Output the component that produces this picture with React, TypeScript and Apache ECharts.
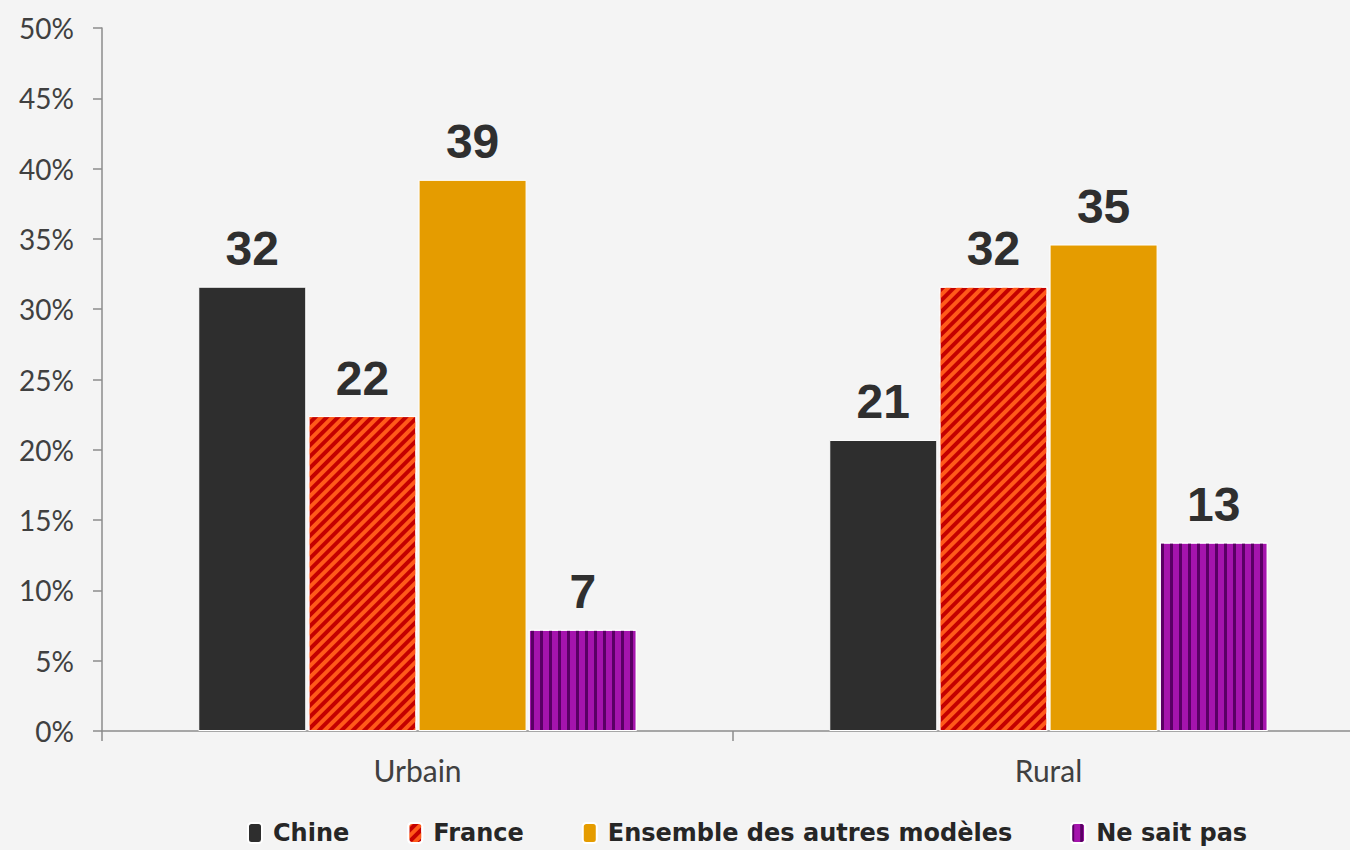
import React, { useEffect, useRef } from "react";
import * as echarts from "echarts";

const categories = ["Urbain", "Rural"];
const seriesNames = ["Chine", "France", "Ensemble des autres modèles", "Ne sait pas"];
const chine = [31.6, 20.7];
const france = [22.4, 31.6];
const ensemble = [39.2, 34.6];
const neSaitPas = [7.2, 13.4];
const yTicks = { min: 0, max: 50, interval: 5 };

export default function App() {
  const ref = useRef<HTMLDivElement>(null);
  useEffect(() => {
    if (!ref.current) return;
    const chart = echarts.init(ref.current, null, { renderer: "svg" });
    const labelStyle = {
      show: true,
      position: "top",
      distance: 14,
      color: "#2f2f2f",
      fontSize: 48,
      fontWeight: "bold",
      fontFamily: "Liberation Sans, Arial, sans-serif",
      formatter: (p: any) => String(Math.round(p.value)),
    };
    const mk = (name: string, data: number[], itemStyle: any) => ({
      name,
      type: "bar",
      data,
      barWidth: 108,
      barGap: "2%",
      itemStyle: { borderColor: "#ffffff", borderWidth: 1, ...itemStyle },
      label: labelStyle,
    });
    chart.setOption({
      animation: false,
      backgroundColor: "#f4f4f4",
      textStyle: { fontFamily: "Lato, 'Open Sans', sans-serif" },
      grid: { left: 102, right: 0, top: 28, bottom: 119, containLabel: false },
      legend: {
        top: 821,
        left: 247,
        padding: 0,
        itemWidth: 14,
        itemHeight: 20,
        itemGap: 58,
        textStyle: {
          fontSize: 24,
          lineHeight: 24,
          fontWeight: "bold",
          color: "#262626",
          fontFamily: "DejaVu Sans, sans-serif",
          padding: [0, 0, 0, 6],
        },
        data: seriesNames,
      },
      xAxis: {
        type: "category",
        data: categories,
        axisLine: { lineStyle: { color: "#8c8c8c", width: 1.5 } },
        axisTick: { show: true, length: 10, lineStyle: { color: "#8c8c8c", width: 1.5 } },
        axisLabel: { fontSize: 30, color: "#404040", margin: 24, fontFamily: "Lato, sans-serif" },
      },
      yAxis: {
        type: "value",
        min: yTicks.min,
        max: yTicks.max,
        interval: yTicks.interval,
        splitLine: { show: false },
        axisLine: { show: true, lineStyle: { color: "#8c8c8c", width: 1.5 } },
        axisTick: { show: true, length: 9, lineStyle: { color: "#8c8c8c", width: 1.5 } },
        axisLabel: {
          formatter: "{value}%",
          fontSize: 28,
          color: "#404040",
          margin: 28,
          fontFamily: "Lato, sans-serif",
        },
      },
      series: [
        mk(seriesNames[0], chine, { color: "#2e2e2e" }),
        mk(seriesNames[1], france, {
          color: "#c40000",
          decal: {
            symbol: "rect",
            symbolSize: 1,
            color: "#ff5a1a",
            dashArrayX: [1, 0],
            dashArrayY: [4, 4],
            rotation: -Math.PI / 4,
          },
        }),
        mk(seriesNames[2], ensemble, { color: "#e59c00" }),
        mk(seriesNames[3], neSaitPas, {
          color: "#a514ad",
          decal: {
            symbol: "rect",
            symbolSize: 1,
            color: "#5a0064",
            dashArrayX: [3, 6],
            dashArrayY: [1, 0],
            rotation: 0,
          },
        }),
      ],
    });
    return () => chart.dispose();
  }, []);
  return (
    <div style={{ position: "absolute", left: 0, top: 0, width: 1350, height: 850, overflow: "hidden" }}>
      <div ref={ref} style={{ width: 1364, height: 850 }} />
    </div>
  );
}
